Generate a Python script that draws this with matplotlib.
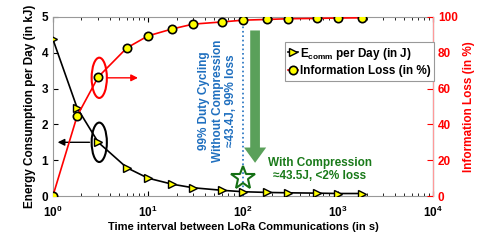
import matplotlib
matplotlib.use('Agg')
import matplotlib.pyplot as plt
from matplotlib.patches import Ellipse

plt.rcParams['font.family'] = ['Liberation Sans', 'DejaVu Sans']
plt.rcParams['font.weight'] = 'bold'
plt.rcParams['mathtext.fontset'] = 'custom'
plt.rcParams['mathtext.rm'] = 'Liberation Sans:bold'
plt.rcParams['mathtext.bf'] = 'Liberation Sans:bold'
plt.rcParams['mathtext.it'] = 'Liberation Sans:bold'

# data
interval = [1, 1.8, 3, 6, 10, 18, 30, 60, 100, 180, 300, 600, 1000, 1800]
energy_kj = [4.38, 2.46, 1.5, 0.79, 0.5, 0.33, 0.23, 0.16, 0.12, 0.1, 0.09, 0.08, 0.07, 0.07]
info_loss = [0, 44.7, 66.5, 82.7, 89.4, 93.3, 96.0, 97.2, 98.2, 98.6, 99.0, 99.2, 99.4, 99.5]
xticks = [1, 10, 100, 1000, 10000]
xtick_labels = [r'$10^{0}$', r'$10^{1}$', r'$10^{2}$', r'$10^{3}$', r'$10^{4}$']

fig = plt.figure(figsize=(4.85, 2.42), dpi=100)
ax = fig.add_axes([0.109, 0.19, 0.784, 0.74])
ax2 = ax.twinx()

ax.plot(interval, energy_kj, color='black', lw=1.2, marker='>', ms=6,
        mfc='yellow', mec='black', mew=1, label=r'E$_{\rm comm}$ per Day (in J)', zorder=3)
ax2.plot(interval, info_loss, color='red', lw=1.2, marker='o', ms=6,
         mfc='yellow', mec='black', mew=1.2, label='Information Loss (in %)', zorder=3)

ax.set_xscale('log')
ax.set_xlim(1, 10000)
ax.set_ylim(0, 5)
ax2.set_ylim(0, 100)
ax.set_xticks(xticks)
ax.set_xticklabels(xtick_labels)
ax.set_yticks([0, 1, 2, 3, 4, 5])
ax2.set_yticks([0, 20, 40, 60, 80, 100])

ax.tick_params(axis='both', which='both', direction='in', labelsize=8.5, top=True)
ax.tick_params(axis='x', pad=6)
ax.tick_params(axis='y', right=False)
ax2.tick_params(axis='y', direction='in', colors='red', labelsize=8.5, length=4)
for s in ['top', 'left', 'bottom']:
    ax.spines[s].set_color('#999999')
ax2.spines['right'].set_color('#ff9999')
for s in ['top', 'left', 'bottom']:
    ax2.spines[s].set_visible(False)

ax.set_xlabel('Time interval between LoRa Communications (in s)', fontsize=8, fontweight='bold',
              labelpad=2)
ax.set_ylabel('Energy Consumption per Day (in kJ)', fontsize=8.5, fontweight='bold')
ax2.set_ylabel('Information Loss (in %)', fontsize=8.5, fontweight='bold', color='red')

# ellipses and arrows pointing at their axes
ax.add_patch(Ellipse((0.122, 0.66), 0.04, 0.225, transform=ax.transAxes,
                     fill=False, ec='red', lw=1.5, zorder=4))
ax.annotate('', xy=(8.4, 3.3), xytext=(3.5, 3.3),
            arrowprops=dict(arrowstyle='-|>', color='red', lw=1, mutation_scale=10))
ax.add_patch(Ellipse((0.122, 0.3), 0.04, 0.22, transform=ax.transAxes,
                     fill=False, ec='black', lw=1.5, zorder=4))
ax.annotate('', xy=(1.05, 1.5), xytext=(2.6, 1.5),
            arrowprops=dict(arrowstyle='-|>', color='black', lw=1, mutation_scale=10))

# 99% duty cycling marker
ax.plot([100, 100], [0, 4.9], color='#1f6fbf', ls=':', lw=1.2, zorder=2)
ax.text(54, 2.65, '99% Duty Cycling\nWithout Compression\n' + '\u224843.4J, 99% loss',
        rotation=90, ha='center', va='center', color='#1f6fbf', fontsize=8.5,
        fontweight='bold', linespacing=1.15)

ax.annotate('', xy=(134, 0.85), xytext=(134, 4.7),
            arrowprops=dict(arrowstyle='simple,head_width=1.6,head_length=1.1,tail_width=0.7',
                            color='#5aa05a', mutation_scale=10, lw=0))
ax.plot([100], [0.5], marker='*', ms=18, mfc='none', mec='#157015', mew=1.5, zorder=5)
ax.text(640, 0.73, 'With Compression\n' + '\u224843.5J, <2% loss', ha='center', va='center',
        color='#1a7a1a', fontsize=8.5, fontweight='bold', linespacing=1.1)

h1, l1 = ax.get_legend_handles_labels()
h2, l2 = ax2.get_legend_handles_labels()
leg = ax2.legend(h1 + h2, l1 + l2, loc='upper left', bbox_to_anchor=(0.61, 0.86),
                 fontsize=8.5, handlelength=0.8, handletextpad=0.2, borderpad=0.3,
                 labelspacing=0.3, fancybox=False, edgecolor='#999999', framealpha=1,
                 borderaxespad=0)
leg.get_frame().set_linewidth(0.8)

fig.savefig('out.png', dpi=100)
